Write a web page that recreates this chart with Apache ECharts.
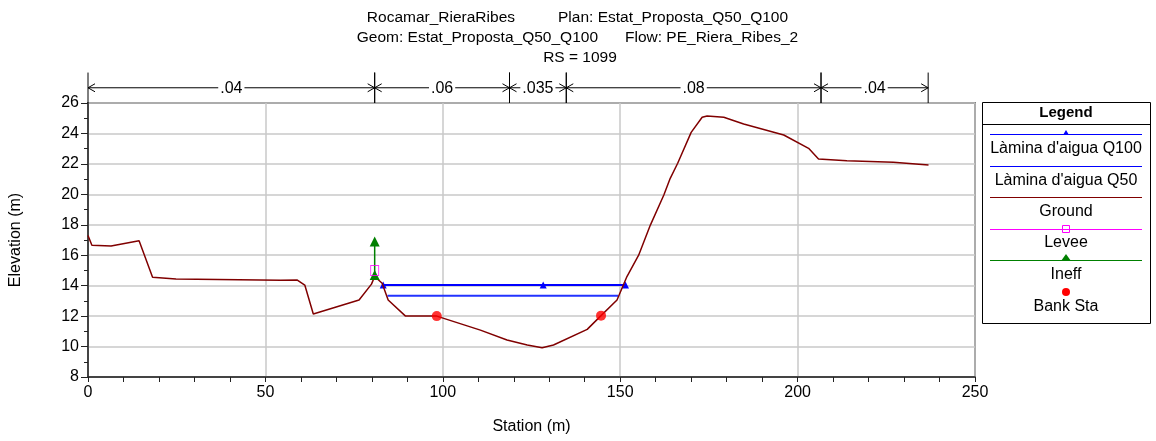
<!DOCTYPE html>
<html>
<head>
<meta charset="utf-8">
<script src="https://cdn.jsdelivr.net/npm/echarts@6/dist/echarts.min.js"></script>
<style>html,body{margin:0;padding:0;background:#fff;}#c{width:1156px;height:441px;}</style>
</head>
<body>
<div id="c"></div>
<script>
// ---- data ----
const groundX = [0, 1.1, 6.5, 14.4, 18.2, 24.8, 54.3, 59, 61.1, 63.5, 76.4, 79.9, 80.8, 82.9, 84.6, 89.5, 98.3, 110.6, 118.1, 123.8, 128, 131.2, 140.7, 144.6, 149.1, 151.9, 155.2, 158.5, 162.3, 164.1, 166.2, 170, 173.1, 174.5, 179.2, 184.8, 196.1, 203.1, 205.9, 213.9, 227, 236.9];
const groundY = [17.3, 16.65, 16.6, 16.95, 14.55, 14.43, 14.35, 14.37, 14.04, 12.14, 13.06, 14.1, 14.6, 14.16, 13.06, 12.0, 12.0, 11.08, 10.43, 10.1, 9.92, 10.1, 11.13, 12.03, 13.06, 14.6, 16.0, 17.98, 19.96, 21.05, 22.04, 24.07, 25.06, 25.15, 25.06, 24.62, 23.9, 23.02, 22.32, 22.2, 22.1, 21.93];
const q100X = [83.2, 128.3, 151.5];
const q100Y = [14.04, 14.04, 14.04];
const q50X = [84.4, 149.4];
const q50Y = [13.33, 13.33];
const leveeX = [80.8];
const leveeY = [15.0];
const ineffX = [80.8, 80.8];
const ineffY = [14.7, 16.9];
const bankX = [98.3, 144.6];
const bankY = [12.0, 12.03];
const nBreaks = [0, 80.8, 118.8, 134.8, 206.6, 236.8];
const nValues = ['.04', '.06', '.035', '.08', '.04'];
const titleLine1 = ['Rocamar_RieraRibes', 'Plan: Estat_Proposta_Q50_Q100'];
const titleLine2 = ['Geom: Estat_Proposta_Q50_Q100', 'Flow: PE_Riera_Ribes_2'];
const titleLine3 = 'RS = 1099';
const legendNames = ["Làmina d'aigua Q100", "Làmina d'aigua Q50", 'Ground', 'Levee', 'Ineff', 'Bank Sta'];

const zip = (a, b) => a.map((v, i) => [v, b[i]]);
const FONT = 'Liberation Sans, Arial, Helvetica, sans-serif';
const FS = 16;
const C = { q100: '#0000ff', q50: '#2233ff', ground: '#800000', levee: '#ff00ff', ineff: '#008000', bank: '#ff0000' };

const nData = nValues.map((v, i) => [nBreaks[i], nBreaks[i + 1], 27, v]);

function renderN(params, api) {
  const x0 = api.value(0), x1 = api.value(1);
  const label = nValues[params.dataIndex];
  const pA = api.coord([x0, 27]), pB = api.coord([x1, 27]);
  const top = api.coord([x0, 28])[1], bot = api.coord([x0, 26])[1];
  const y = pA[1];
  const st = { stroke: '#000', lineWidth: 1, fill: null };
  const a = 7, h = 4;
  return {
    type: 'group',
    children: [
      { type: 'line', shape: { x1: pA[0], y1: top, x2: pA[0], y2: bot }, style: st },
      { type: 'line', shape: { x1: pB[0], y1: top, x2: pB[0], y2: bot }, style: st },
      { type: 'line', shape: { x1: pA[0], y1: y, x2: pB[0], y2: y }, style: st },
      { type: 'polyline', shape: { points: [[pA[0] + a, y - h], [pA[0], y], [pA[0] + a, y + h]] }, style: st },
      { type: 'polyline', shape: { points: [[pB[0] - a, y - h], [pB[0], y], [pB[0] - a, y + h]] }, style: st },
      { type: 'text', x: (pA[0] + pB[0]) / 2, y: y + 1, style: { text: label, fill: '#000', font: FS + 'px ' + FONT, align: 'center', verticalAlign: 'middle', backgroundColor: '#fff', padding: [0, 2] } }
    ]
  };
}

// legend graphic
const legendLeft = 982, legendRight = 1150, legendTop = 102, legendBottom = 323;
const lgChildren = [
  { type: 'rect', shape: { x: legendLeft + 0.5, y: legendTop + 0.5, width: legendRight - legendLeft, height: legendBottom - legendTop }, style: { fill: '#fff', stroke: '#000', lineWidth: 1 } },
  { type: 'text', x: (legendLeft + legendRight) / 2, y: 113, style: { text: 'Legend', font: 'bold 15px ' + FONT, fill: '#000', align: 'center', verticalAlign: 'middle' } },
  { type: 'line', shape: { x1: legendLeft, y1: 124.5, x2: legendRight, y2: 124.5 }, style: { stroke: '#000', lineWidth: 1 } }
];
const lgLineY = [134, 166, 197, 229, 260, 292];
const lgTextY = [149, 181, 212, 243, 275, 307];
const lgColors = [C.q100, C.q100, C.ground, C.levee, C.ineff, C.bank];
const lgCx = (legendLeft + legendRight) / 2;
legendNames.forEach((nm, i) => {
  if (i < 5) lgChildren.push({ type: 'line', shape: { x1: 990, y1: lgLineY[i] + 0.5, x2: 1142, y2: lgLineY[i] + 0.5 }, style: { stroke: lgColors[i], lineWidth: 1 } });
  if (i === 0) lgChildren.push({ type: 'polygon', shape: { points: [[lgCx, lgLineY[i] - 4], [lgCx - 3, lgLineY[i] + 1], [lgCx + 3, lgLineY[i] + 1]] }, style: { fill: C.q100 } });
  if (i === 3) lgChildren.push({ type: 'rect', shape: { x: lgCx - 3.5, y: lgLineY[i] - 3.5, width: 7, height: 7 }, style: { fill: null, stroke: C.levee, lineWidth: 1 } });
  if (i === 4) lgChildren.push({ type: 'polygon', shape: { points: [[lgCx, lgLineY[i] - 6], [lgCx - 5, lgLineY[i] + 1], [lgCx + 5, lgLineY[i] + 1]] }, style: { fill: C.ineff } });
  if (i === 5) lgChildren.push({ type: 'circle', shape: { cx: lgCx, cy: lgLineY[i], r: 4 }, style: { fill: C.bank } });
  lgChildren.push({ type: 'text', x: lgCx, y: lgTextY[i], style: { text: nm, font: FS + 'px ' + FONT, fill: '#000', align: 'center', verticalAlign: 'middle' } });
});

const titleFont = '15.5px ' + FONT;
const graphics = [
  { type: 'text', x: 515, y: 18, style: { text: titleLine1[0], font: titleFont, fill: '#000', align: 'right', verticalAlign: 'middle' } },
  { type: 'text', x: 558, y: 18, style: { text: titleLine1[1], font: titleFont, fill: '#000', align: 'left', verticalAlign: 'middle' } },
  { type: 'text', x: 598, y: 38, style: { text: titleLine2[0], font: titleFont, fill: '#000', align: 'right', verticalAlign: 'middle' } },
  { type: 'text', x: 625, y: 38, style: { text: titleLine2[1], font: titleFont, fill: '#000', align: 'left', verticalAlign: 'middle' } },
  { type: 'text', x: 580, y: 58, style: { text: titleLine3, font: titleFont, fill: '#000', align: 'center', verticalAlign: 'middle' } },
  { type: 'group', children: lgChildren }
];

const chart = echarts.init(document.getElementById('c'), null, { renderer: 'canvas' });
chart.setOption({
  animation: false,
  backgroundColor: '#fff',
  textStyle: { fontFamily: FONT },
  grid: { left: 87, right: 181, top: 103, bottom: 64, show: true, borderColor: '#222', borderWidth: 1.5, backgroundColor: 'transparent' },
  xAxis: {
    type: 'value', min: 0, max: 250, interval: 50,
    name: 'Station (m)', nameLocation: 'middle', nameGap: 42,
    nameTextStyle: { fontSize: FS, color: '#000', fontFamily: FONT },
    axisLine: { show: true, lineStyle: { color: '#222', width: 1.5 } },
    axisTick: { show: true, length: 5, lineStyle: { color: '#222' } },
    minorTick: { show: true, splitNumber: 5, length: 5, lineStyle: { color: '#222' } },
    axisLabel: { fontSize: FS, color: '#000', margin: 8, fontFamily: FONT },
    splitLine: { show: true, lineStyle: { color: '#c8c8c8', width: 1.5 } }
  },
  yAxis: {
    type: 'value', min: 8, max: 26, interval: 2,
    name: 'Elevation (m)', nameLocation: 'middle', nameGap: 64, nameRotate: 90,
    nameTextStyle: { fontSize: FS, color: '#000', fontFamily: FONT },
    axisLine: { show: true, lineStyle: { color: '#222', width: 1.5 } },
    axisTick: { show: true, length: 7, lineStyle: { color: '#222' } },
    minorTick: { show: true, splitNumber: 2, length: 4, lineStyle: { color: '#222' } },
    axisLabel: { fontSize: FS, color: '#000', margin: 9, fontFamily: FONT },
    splitLine: { show: true, lineStyle: { color: '#c8c8c8', width: 1.5 } }
  },
  legend: { show: false },
  graphic: graphics,
  series: [
    { name: "Làmina d'aigua Q50", type: 'line', data: zip(q50X, q50Y), showSymbol: false, symbol: 'none', lineStyle: { color: C.q50, width: 2 }, z: 3 },
    { name: "Làmina d'aigua Q100", type: 'line', data: zip(q100X, q100Y), symbol: 'triangle', symbolSize: 7, itemStyle: { color: C.q100 }, lineStyle: { color: C.q100, width: 2 }, z: 3 },
    { name: 'Ground', type: 'line', data: zip(groundX, groundY), symbol: 'none', lineStyle: { color: C.ground, width: 1.5 }, z: 4 },
    { name: 'Ineff', type: 'line', data: zip(ineffX, ineffY), symbol: 'triangle', symbolSize: 10, itemStyle: { color: C.ineff }, lineStyle: { color: C.ineff, width: 1.5 }, z: 5 },
    { name: 'Levee', type: 'scatter', data: zip(leveeX, leveeY), symbol: 'rect', symbolSize: [8, 10], itemStyle: { color: 'rgba(0,0,0,0)', borderColor: C.levee, borderWidth: 1 }, z: 6 },
    { name: 'Bank Sta', type: 'scatter', data: zip(bankX, bankY), symbol: 'circle', symbolSize: 10, itemStyle: { color: C.bank }, z: 6 },
    { name: 'n', type: 'custom', data: nData, encode: { x: [0, 1], y: 2 }, renderItem: renderN, clip: false, silent: true, z: 2 }
  ]
});
</script>
</body>
</html>
